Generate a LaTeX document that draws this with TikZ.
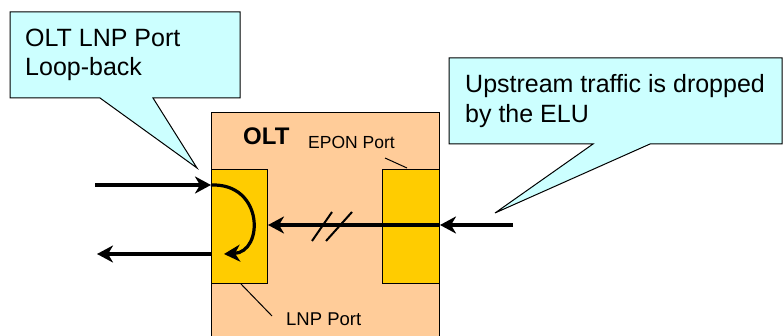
\documentclass[tikz,border=0pt]{standalone}
\usepackage{fontspec}
\setmainfont{Liberation Sans}
\usetikzlibrary{arrows.meta}
\definecolor{peach}{HTML}{FFCC99}
\definecolor{portyellow}{HTML}{FFCC00}
\definecolor{calloutcyan}{HTML}{CCFFFF}
\begin{document}
\begin{tikzpicture}[x=1pt,y=-1pt,
  box/.style={draw, line width=1pt, inner sep=0pt, anchor=north west},
  port/.style={box, fill=portyellow, minimum height=114pt},
  callout/.style={draw, line width=1pt, fill=calloutcyan, line join=miter},
  bigtext/.style={anchor=base west, inner sep=0pt, font=\fontsize{25}{30}\selectfont},
  smalltext/.style={anchor=base west, inner sep=0pt, font=\fontsize{18.5}{22}\selectfont},
  flow/.style={line width=3.2pt, -{Stealth[length=16pt,width=17pt,inset=5pt]}},
  leader/.style={line width=1pt}
]
\useasboundingbox (0,0) rectangle (783,336);
\clip (0,0) rectangle (783,336);
\fill[white] (0,0) rectangle (783,336);

% OLT box and ports
\node[box, fill=peach, minimum width=228pt, minimum height=240pt] (olt) at (211,112) {};
\node[port, minimum width=56pt] (lnp) at (211,169) {};
\node[port, minimum width=57pt] (epon) at (382,169) {};

\node[bigtext, font=\fontsize{24}{29}\selectfont\bfseries] (oltlabel) at (243,145) {OLT};
\node[smalltext, font=\fontsize{17.5}{21}\selectfont] (eponlabel) at (308,149) {EPON Port};
\node[smalltext] (lnplabel) at (286,325) {LNP Port};

% leaders
\coordinate (eponlead) at (385,158);
\draw[leader] (eponlead) -- (407,168);
\coordinate (lnplead) at (272,316);
\draw[leader] (241,284) -- (lnplead);

% callout 1
\draw[callout] (10,12) -- (240,12) -- (240,98) -- (153,98) -- (197,168) -- (100,98) -- (10,98) -- cycle;
\node[bigtext] (c1a) at (25,47) {OLT LNP Port};
\node[bigtext] (c1b) at (25,76) {Loop-back};

% callout 2
\draw[callout] (449,58) -- (782,58) -- (782,144) -- (650,144) -- (495,213) -- (593,144) -- (449,144) -- cycle;
\node[bigtext] (c2a) at (465,93) {Upstream traffic is dropped};
\node[bigtext] (c2b) at (465,123) {by the ELU};

% loop-back arrows
\coordinate (inA) at (95,185);
\coordinate (outB) at (97,254);
\draw[flow] (inA) -- (lnp.west |- inA);
\draw[flow] (lnp.west |- inA) .. controls (264,183) and (264,252) .. (224,254);
\draw[flow] (lnp.west |- outB) -- (outB);

% upstream arrow
\coordinate (up) at (513,225);
\draw[flow] (up) -- (epon.east |- up);
\draw[flow] (epon.east |- up) -- (lnp.east |- up);
\draw[line width=2pt] (312,241) -- (332,212);
\draw[line width=2pt] (326,241) -- (352,212);
\end{tikzpicture}
\end{document}
